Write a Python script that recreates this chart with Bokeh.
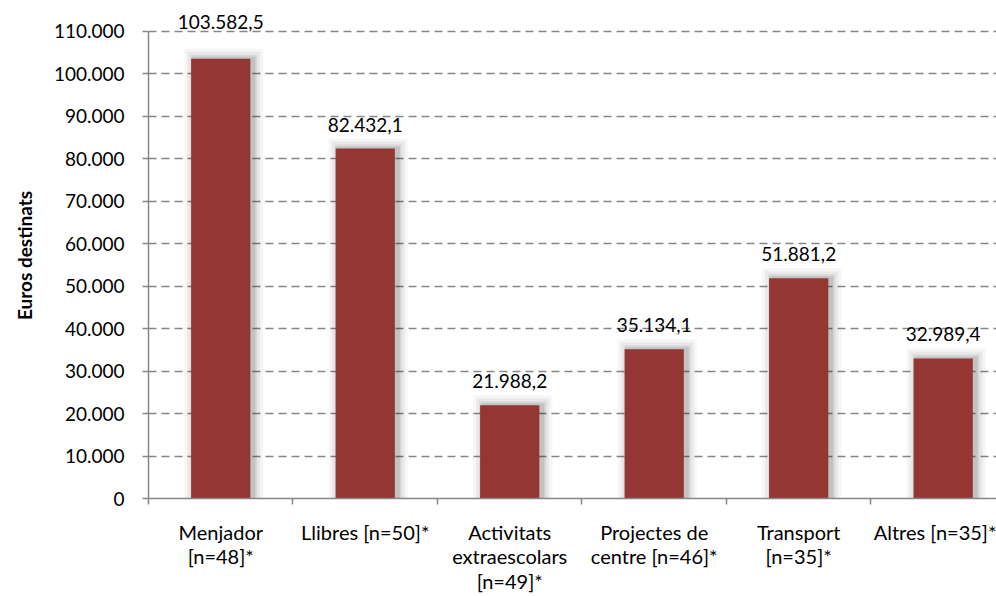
import numpy as np
from bokeh.plotting import figure
from bokeh.models import Range1d, FixedTicker, LabelSet, ColumnDataSource
from bokeh.core.properties import value
from bokeh.embed import file_html
from bokeh.resources import INLINE

# ---- data ----
categories = [
    "Menjador\n[n=48]*",
    "Llibres [n=50]*",
    "Activitats\nextraescolars\n[n=49]*",
    "Projectes de\ncentre [n=46]*",
    "Transport\n[n=35]*",
    "Altres [n=35]*",
]
values = [103582.5, 82432.1, 21988.2, 35134.1, 51881.2, 32989.4]
y_ticks = [0, 10000, 20000, 30000, 40000, 50000, 60000, 70000, 80000, 90000, 100000, 110000]
y_axis_title = "Euros destinats"

# ---- style ----
FONT = "Lato"
BAR = "#943634"
GRAY = "#868686"
label_offsets = [37, 24, 24, 24, 24, 24]  # px above bar top


def fmt_num(v, dec):
    s = f"{v:,.{dec}f}"
    return s.replace(",", "X").replace(".", ",").replace("X", ".")


centers = np.arange(len(categories)) + 0.5
bounds = list(range(len(categories) + 1))

src = ColumnDataSource(dict(
    x=centers,
    top=values,
    label=[fmt_num(v, 1) for v in values],
    off=label_offsets,
))

p = figure(
    width=996, height=596,
    x_range=Range1d(0, 5.869), y_range=Range1d(0, 114475),
    output_backend="svg", toolbar_location=None,
    min_border_left=148, min_border_right=0, min_border_top=12, min_border_bottom=98,
)
p.outline_line_color = None
p.background_fill_color = "white"
p.border_fill_color = "white"

# shadows (soft blur approximation)
px_x = 1 / 144.5
px_y = 110000 / 467
for ext, a in [(10, 0.035), (7, 0.05), (4, 0.07), (2, 0.1)]:
    p.vbar(
        x=[c + 3 * px_x for c in centers],
        top=[v + ext * px_y for v in values],
        bottom=0,
        width=0.41 + 2 * ext * px_x,
        fill_color="black", fill_alpha=a, line_color=None,
    )

p.vbar(x="x", top="top", width=0.41, source=src, fill_color=BAR, line_color=None)

labels = LabelSet(
    x="x", y="top", text="label", y_offset="off", source=src,
    text_align="center", text_baseline="middle",
    text_font=value(FONT), text_font_size="19px", text_color="black",
)
p.add_layout(labels)

# y axis
yax = p.yaxis[0]
yax.ticker = FixedTicker(ticks=y_ticks)
yax.major_label_overrides = {t: fmt_num(t, 0) for t in y_ticks}
yax.bounds = (0, 110000)
yax.axis_line_color = GRAY
yax.axis_line_width = 1.5
yax.major_tick_line_color = GRAY
yax.major_tick_line_width = 1.5
yax.major_tick_out = 6
yax.major_tick_in = 0
yax.minor_tick_line_color = None
yax.major_label_text_font = FONT
yax.major_label_text_font_size = "19px"
yax.major_label_text_color = "black"
yax.major_label_standoff = 18
yax.axis_label = y_axis_title
yax.axis_label_text_font = FONT
yax.axis_label_text_font_size = "19px"
yax.axis_label_text_font_style = "bold"
yax.axis_label_text_color = "black"
yax.axis_label_standoff = 15

# x axis
xax = p.xaxis[0]
xax.ticker = FixedTicker(ticks=list(centers), minor_ticks=bounds)
xax.major_label_overrides = {float(c): lab for c, lab in zip(centers, categories)}
xax.axis_line_color = GRAY
xax.axis_line_width = 1.5
xax.major_tick_line_color = None
xax.major_tick_out = 0
xax.major_tick_in = 0
xax.minor_tick_line_color = GRAY
xax.minor_tick_line_width = 1.5
xax.minor_tick_out = 6
xax.minor_tick_in = 0
xax.major_label_text_font = FONT
xax.major_label_text_font_size = "20px"
xax.major_label_text_color = "black"
xax.major_label_text_line_height = 1.04
xax.major_label_standoff = 15

# grid
p.xgrid.visible = False
p.ygrid.ticker = FixedTicker(ticks=y_ticks[1:])
p.ygrid.grid_line_color = GRAY
p.ygrid.grid_line_width = 1.5
p.ygrid.grid_line_dash = "8 5"

open("out.html", "w").write(file_html(p, INLINE))
